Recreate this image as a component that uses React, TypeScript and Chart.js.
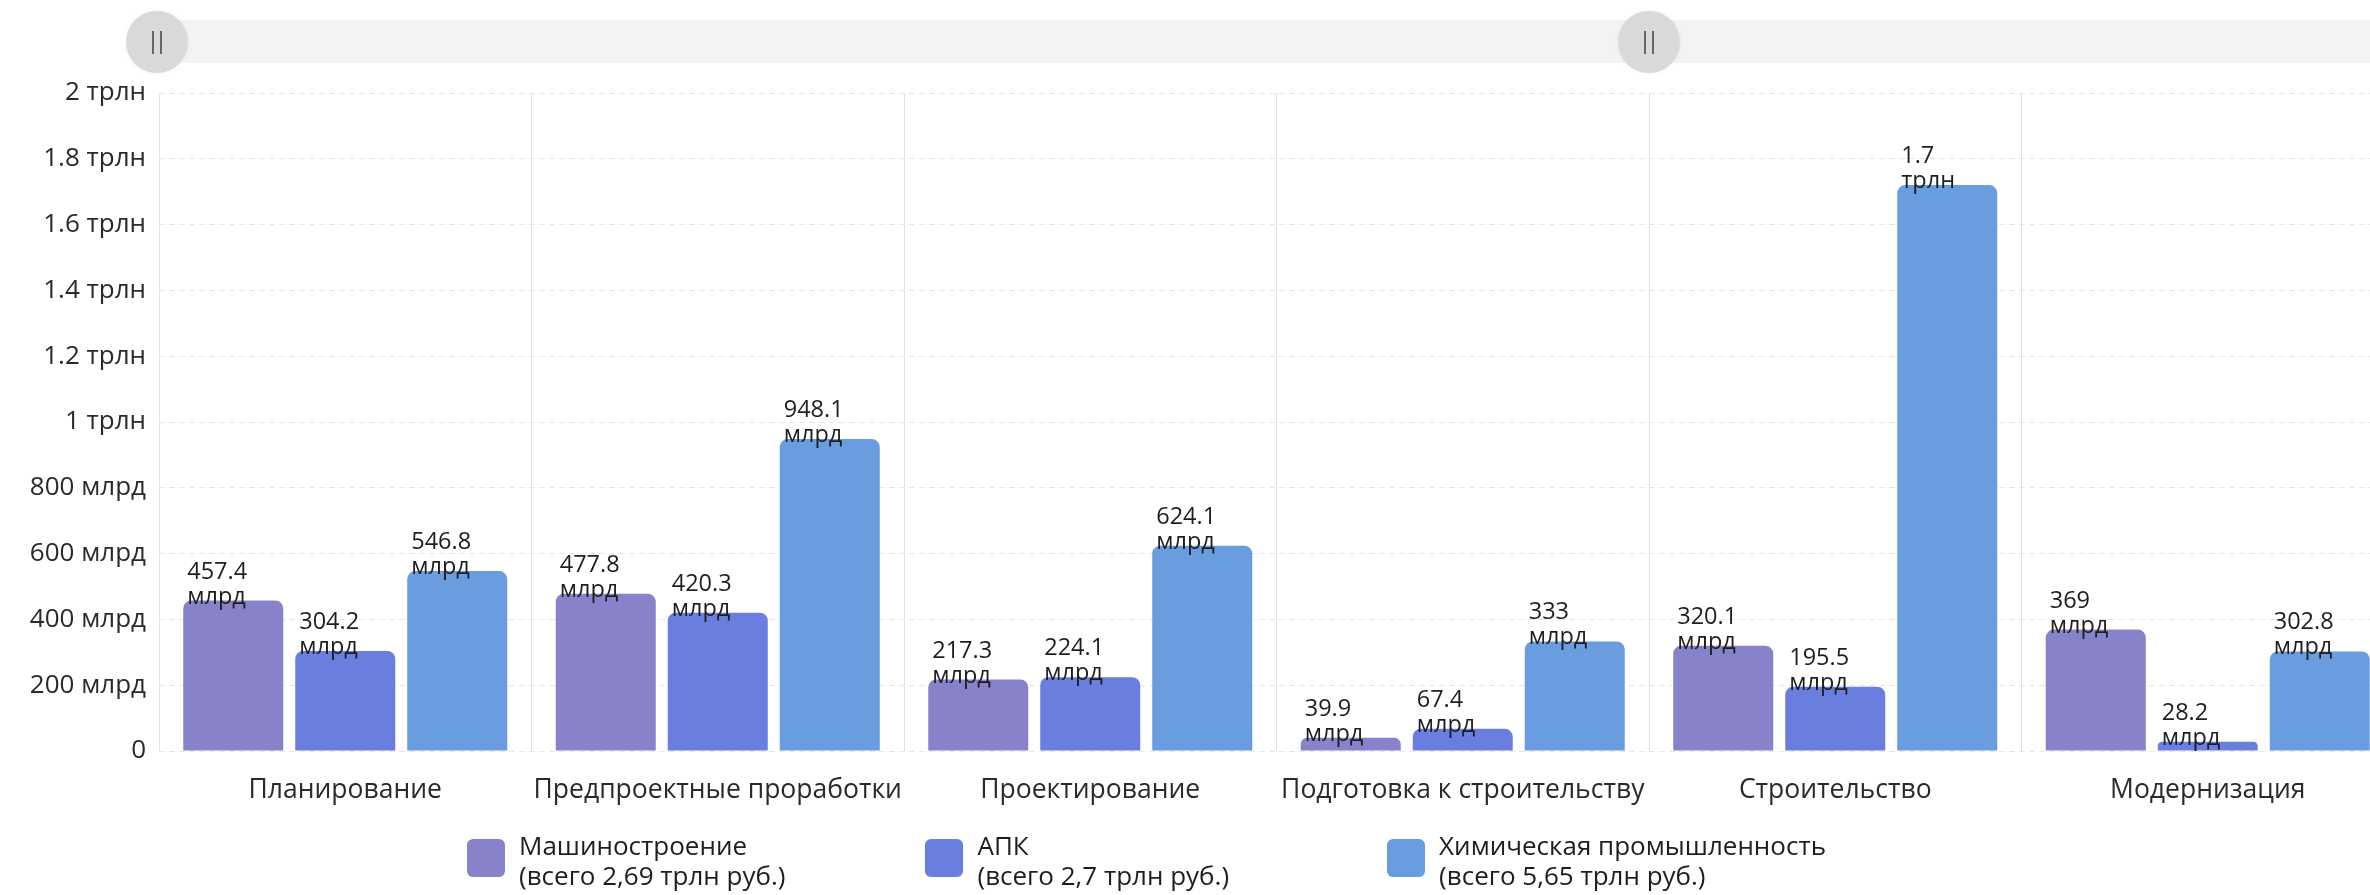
import React, { useEffect, useRef } from "react";
import { Chart, registerables } from "chart.js";

Chart.register(...registerables);

const FONT = '"Open Sans", "Noto Sans", sans-serif';

const categories = [
  "Планирование",
  "Предпроектные проработки",
  "Проектирование",
  "Подготовка к строительству",
  "Строительство",
  "Модернизация",
];

const seriesNames = ["Машиностроение", "АПК", "Химическая промышленность"];
const seriesTotals = ["2,69", "2,7", "5,65"];
const seriesColors = ["#8782c9", "#6a7ee0", "#699ddf"];

// values in billions of rubles (млрд)
const mashinostroenie = [457.4, 477.8, 217.3, 39.9, 320.1, 369];
const apk = [304.2, 420.3, 224.1, 67.4, 195.5, 28.2];
const khimiya = [546.8, 948.1, 624.1, 333, 1720, 302.8];

const yMin = 0;
const yMax = 2000;
const yStep = 200;

const fmtNum = (v: number) => {
  const s = v.toFixed(1);
  return s.endsWith(".0") ? s.slice(0, -2) : s;
};
const fmtValue = (v: number): [string, string] =>
  v >= 1000 ? [fmtNum(v / 1000), "трлн"] : [fmtNum(v), "млрд"];
const fmtTick = (v: number) =>
  v === 0 ? "0" : v >= 1000 ? `${fmtNum(v / 1000)} трлн` : `${fmtNum(v)} млрд`;

const barLabels = {
  id: "barLabels",
  afterDatasetsDraw(chart: any) {
    const ctx = chart.ctx;
    ctx.save();
    ctx.font = `23.5px ${FONT}`;
    ctx.fillStyle = "#1e1e1e";
    ctx.textAlign = "left";
    ctx.textBaseline = "alphabetic";
    chart.data.datasets.forEach((ds: any, di: number) => {
      const meta = chart.getDatasetMeta(di);
      meta.data.forEach((bar: any, i: number) => {
        const { x, y, width } = bar.getProps(["x", "y", "width"], true);
        const [a, b] = fmtValue(ds.data[i]);
        const left = x - width / 2 + 4;
        ctx.fillText(a, left, y - 22);
        ctx.fillText(b, left, y + 3);
      });
    });
    ctx.restore();
  },
};

const seriesData = [mashinostroenie, apk, khimiya];

export default function App() {
  const ref = useRef<HTMLCanvasElement>(null);

  useEffect(() => {
    if (!ref.current) return;
    const chart = new Chart(ref.current, {
      type: "bar",
      data: {
        labels: categories,
        datasets: seriesNames.map((name, i) => ({
          label: name,
          data: seriesData[i],
          backgroundColor: seriesColors[i],
          borderRadius: 8,
          borderSkipped: "bottom",
          categoryPercentage: 0.902,
          barPercentage: 0.893,
        })),
      },
      options: {
        animation: false,
        responsive: false,
        devicePixelRatio: 1,
        layout: { padding: { left: 0, right: 26, top: 93, bottom: 0 } },
        plugins: {
          legend: { display: false },
          tooltip: { enabled: false },
        },
        scales: {
          x: {
            grid: { color: "#e3e3e3", drawTicks: false, offset: true },
            border: { display: false },
            ticks: {
              font: { family: FONT, size: 26.5 },
              color: "#2a2a2a",
              padding: 24,
              maxRotation: 0,
              autoSkip: false,
            },
            afterFit: (scale: any) => {
              scale.height = 144;
            },
          },
          y: {
            min: yMin,
            max: yMax,
            grid: { color: "#e6e6e6", drawTicks: false },
            border: { display: false, dash: [6, 4] },
            ticks: {
              stepSize: yStep,
              font: { family: FONT, size: 26 },
              color: "#2a2a2a",
              padding: 13,
              callback: (v: any) => fmtTick(Number(v)),
            },
            afterFit: (scale: any) => {
              scale.width = 159;
            },
          },
        },
      },
      plugins: [barLabels],
    });
    return () => chart.destroy();
  }, []);

  return (
    <div
      style={{
        position: "fixed",
        left: 0,
        top: 0,
        width: 2370,
        height: 895,
        overflow: "hidden",
        background: "#fff",
        fontFamily: FONT,
      }}
    >
      {/* top range scrollbar */}
      <div
        style={{
          position: "absolute",
          left: 157,
          top: 20,
          width: 2300,
          height: 43,
          background: "#f3f3f3",
          borderRadius: 21,
        }}
      />
      {[157, 1649].map((cx) => (
        <div
          key={cx}
          style={{
            position: "absolute",
            left: cx - 31,
            top: 11,
            width: 62,
            height: 62,
            borderRadius: "50%",
            background: "#d9d9d9",
            boxShadow: "0 0 4px rgba(0,0,0,0.06)",
          }}
        >
          <div style={{ position: "absolute", left: 26, top: 20, width: 1.5, height: 23, background: "#666" }} />
          <div style={{ position: "absolute", left: 34, top: 20, width: 1.5, height: 23, background: "#666" }} />
        </div>
      ))}
      <canvas
        ref={ref}
        width={2420}
        height={895}
        style={{ position: "absolute", left: 0, top: 0, width: 2420, height: 895 }}
      />
      {/* legend */}
      <div
        style={{
          position: "absolute",
          left: 467,
          top: 830,
          display: "flex",
          color: "#1e1e1e",
          fontSize: 26,
          lineHeight: "30px",
        }}
      >
        {seriesNames.map((name, i) => (
          <div
            key={name}
            style={{
              display: "flex",
              alignItems: "flex-start",
              marginLeft: i === 0 ? 0 : i === 1 ? 140 : 158,
            }}
          >
            <div
              style={{
                width: 38,
                height: 38,
                borderRadius: 6,
                background: seriesColors[i],
                marginTop: 9,
                marginRight: 14,
              }}
            />
            <div>
              <div>{name}</div>
              <div>{`(всего ${seriesTotals[i]} трлн руб.)`}</div>
            </div>
          </div>
        ))}
      </div>
    </div>
  );
}
